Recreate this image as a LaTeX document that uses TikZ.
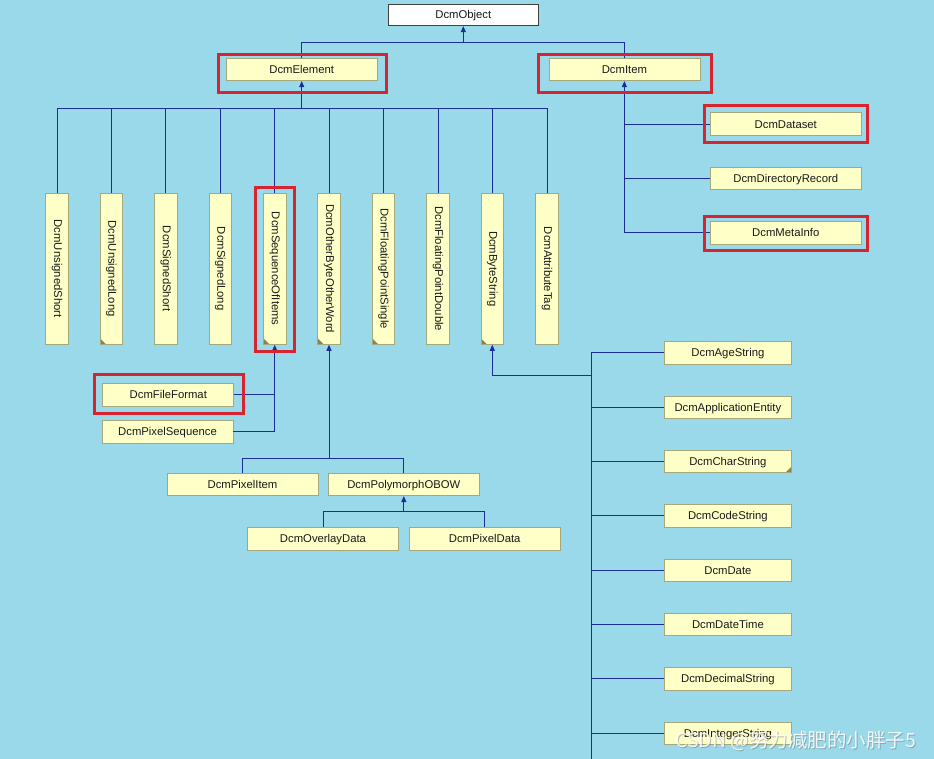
\documentclass[tikz,border=0pt]{standalone}
\usepackage{graphicx}
\usepackage{fontspec}
\setmainfont{Liberation Sans}
\newfontfamily\cjkfont{Noto Sans CJK SC}
\usetikzlibrary{arrows.meta}
\definecolor{bgc}{RGB}{153,217,234}
\definecolor{boxfill}{RGB}{255,255,200}
\definecolor{boxline}{RGB}{165,168,120}
\definecolor{connc}{RGB}{28,45,150}
\definecolor{hlc}{RGB}{214,36,48}
\definecolor{foldc}{RGB}{140,132,80}
\definecolor{textc}{RGB}{25,25,25}
\tikzset{
  basecls/.style={draw=boxline, fill=boxfill, line width=0.8pt,
    inner sep=0pt, text=textc, font=\fontsize{11.3}{13}\selectfont},
  cls/.style={basecls, minimum width=151pt, minimum height=22.4pt,
    text height=8.1pt, text depth=0pt},
  rootcls/.style={cls, fill=white, draw=black!75},
  vcls/.style={basecls, minimum width=22.6pt, minimum height=151.3pt},
  leafcls/.style={cls, minimum width=127.2pt},
  smallcls/.style={cls, minimum width=131pt},
  hlbox/.style={draw=hlc, line width=3pt},
  link/.style={draw=connc, line width=0.9pt},
  inh/.style={link, -{Triangle[width=5pt,length=6pt]}},
  foldbl/.style={path picture={\fill[foldc] (path picture bounding box.south west)
      -- ++(6pt,0pt) -- ++(-6pt,6pt) -- cycle;}},
  foldbr/.style={path picture={\fill[foldc] (path picture bounding box.south east)
      -- ++(-6pt,0pt) -- ++(6pt,6pt) -- cycle;}},
}
\begin{document}
\begin{tikzpicture}[x=1pt,y=-1pt]
\fill[bgc] (0,0) rectangle (934,759);
\useasboundingbox (0,0) rectangle (934,759);

% root
\node[rootcls, minimum width=150.7pt, minimum height=21.7pt] (obj) at (463.3,14.9) {DcmObject};
\node[cls] (elem) at (301.7,69.5) {DcmElement};
\node[cls] (item) at (624.4,69.5) {DcmItem};

% DcmElement subclasses
\node[vcls] (v1) at (57,268.7) {\rotatebox{-90}{DcmUnsignedShort}};
\node[vcls,foldbl] (v2) at (111.3,268.7) {\rotatebox{-90}{DcmUnsignedLong}};
\node[vcls] (v3) at (165.7,268.7) {\rotatebox{-90}{DcmSignedShort}};
\node[vcls] (v4) at (220.3,268.7) {\rotatebox{-90}{DcmSignedLong}};
\node[vcls,foldbl] (seq) at (274.7,268.7) {\rotatebox{-90}{DcmSequenceOfItems}};
\node[vcls,foldbl] (obow) at (329,268.7) {\rotatebox{-90}{DcmOtherByteOtherWord}};
\node[vcls,foldbl] (v7) at (383.5,268.7) {\rotatebox{-90}{DcmFloatingPointSingle}};
\node[vcls] (v8) at (438,268.7) {\rotatebox{-90}{DcmFloatingPointDouble}};
\node[vcls,foldbl] (bs) at (492.3,268.7) {\rotatebox{-90}{DcmByteString}};
\node[vcls] (v10) at (547,268.7) {\rotatebox{-90}{DcmAttributeTag}};

% DcmItem subclasses
\node[cls, minimum width=151.7pt] (ds) at (785.8,124) {DcmDataset};
\node[cls, minimum width=151.7pt] (dr) at (785.8,178.3) {DcmDirectoryRecord};
\node[cls, minimum width=151.7pt] (mi) at (785.8,232.8) {DcmMetaInfo};

% DcmSequenceOfItems subclasses
\node[smallcls] (ff) at (168.3,394.7) {DcmFileFormat};
\node[smallcls] (ps) at (167.5,431.7) {DcmPixelSequence};

% DcmOtherByteOtherWord subclasses
\node[cls] (pi) at (242.5,484.5) {DcmPixelItem};
\node[cls] (pm) at (403.8,484.5) {DcmPolymorphOBOW};
\node[cls] (od) at (323,538.8) {DcmOverlayData};
\node[cls] (pd) at (484.7,538.8) {DcmPixelData};

% DcmByteString subclasses
\node[leafcls] (s1) at (727.9,352.7) {DcmAgeString};
\node[leafcls] (s2) at (727.9,407.1) {DcmApplicationEntity};
\node[leafcls,foldbr] (s3) at (727.9,461.4) {DcmCharString};
\node[leafcls] (s4) at (727.9,515.8) {DcmCodeString};
\node[leafcls] (s5) at (727.9,570.2) {DcmDate};
\node[leafcls] (s6) at (727.9,624.6) {DcmDateTime};
\node[leafcls] (s7) at (727.9,678.9) {DcmDecimalString};
\node[leafcls] (s8) at (727.9,733.3) {DcmIntegerString};

% junctions
\coordinate (jOb) at (463.3,42.5);
\coordinate (jEl) at (301.7,108.3);
\coordinate (jOB) at (329,458);
\coordinate (jPM) at (403.8,511.7);
\coordinate (jBS) at (591,375);
\coordinate (trunkEnd) at (591,759);

% DcmObject
\draw[link] (elem.north) |- (jOb);
\draw[link] (item.north) |- (jOb);
\draw[inh] (jOb) -- (obj.south);

% DcmElement
\foreach \n in {v1,v2,v3,v4,seq,obow,v7,v8,bs,v10}{\draw[link] (\n.north) |- (jEl);}
\draw[inh] (jEl) -- (elem.south);

% DcmItem
\draw[link] (ds.west) -- (ds.west -| item.south);
\draw[link] (dr.west) -- (dr.west -| item.south);
\draw[inh] (mi.west) -| (item.south);

% DcmSequenceOfItems
\draw[link] (ff.east) -- (ff.east -| seq.south);
\draw[inh] (ps.east) -| (seq.south);

% DcmOtherByteOtherWord
\draw[link] (pi.north) |- (jOB);
\draw[link] (pm.north) |- (jOB);
\draw[inh] (jOB) -- (obow.south);

% DcmPolymorphOBOW
\draw[link] (od.north) |- (jPM);
\draw[link] (pd.north) |- (jPM);
\draw[inh] (jPM) -- (pm.south);

% DcmByteString
\draw[inh] (jBS) -| (bs.south);
\draw[link] (s1.west -| jBS) -- (trunkEnd);
\foreach \n in {s1,s2,s3,s4,s5,s6,s7,s8}{\draw[link] (\n.west) -- (\n.west -| jBS);}

% highlight frames
\draw[hlbox] (218.8,54.2) rectangle (386.8,92.5);
\draw[hlbox] (538,54.2) rectangle (711.5,92.5);
\draw[hlbox] (704.2,105.8) rectangle (867.8,142.5);
\draw[hlbox] (704.2,216.5) rectangle (867.8,250.2);
\draw[hlbox] (255.5,187.2) rectangle (294.2,351.2);
\draw[hlbox] (94.2,374.8) rectangle (243.2,413.5);

% watermark
\node[anchor=base west, inner sep=0pt, text=black!55, opacity=0.45,
  font=\cjkfont\fontsize{19.5}{22}\selectfont] (wmshadow) at (676,748) {CSDN @努力减肥的小胖子5};
\node[anchor=base west, inner sep=0pt, text=white, opacity=0.85,
  font=\cjkfont\fontsize{19.5}{22}\selectfont] (wm) at (675,747) {CSDN @努力减肥的小胖子5};
\end{tikzpicture}
\end{document}
